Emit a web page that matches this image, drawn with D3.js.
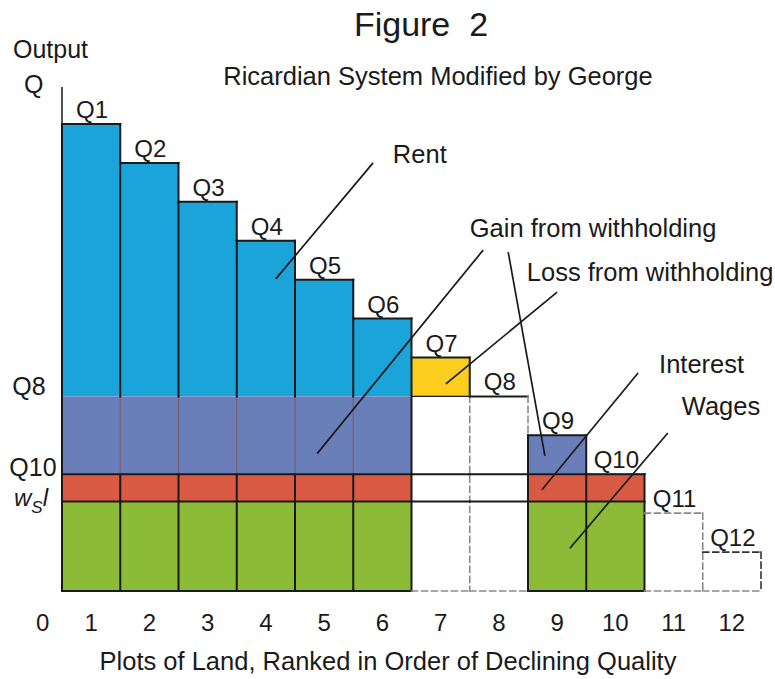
<!DOCTYPE html>
<html>
<head>
<meta charset="utf-8">
<script src="https://cdn.jsdelivr.net/npm/d3@7"></script>
<style>
  html, body { margin: 0; padding: 0; background: #ffffff; }
  svg { display: block; font-family: "Liberation Sans", Arial, Helvetica, sans-serif; }
</style>
</head>
<body>
<svg id="chart" width="775" height="679"></svg>
<script>
// ---------------- data ----------------
const plots = [1, 2, 3, 4, 5, 6, 7, 8, 9, 10, 11, 12];
const outputs = [12, 11, 10, 9, 8, 7, 6, 5, 4, 3, 2, 1];
const qLabels = ["Q1", "Q2", "Q3", "Q4", "Q5", "Q6", "Q7", "Q8", "Q9", "Q10", "Q11", "Q12"];
const plotStatus = ["used", "used", "used", "used", "used", "used",
                    "withheld", "withheld", "used", "used", "idle", "idle"];
const tickLabels = ["0", "1", "2", "3", "4", "5", "6", "7", "8", "9", "10", "11", "12"];
const marginLevel = 5;      // Q8: margin of production without withholding
const interestLevel = 3;    // Q10: actual margin
const wagesLevel = 2.3;     // w_S l
const annotations = [
  { text: "Rent", tx: 5.68, ty: 11.0, lines: [[5.34, 11.0, 3.67, 8.02]] },
  { text: "Gain from withholding", tx: 7.0, ty: 9.1, lines: [[7.23, 8.76, 4.38, 3.53], [7.66, 8.71, 8.29, 3.47]] },
  { text: "Loss from withholding", tx: 7.98, ty: 7.97, lines: [[8.50, 7.68, 6.59, 5.32]] },
  { text: "Interest", tx: 10.25, ty: 5.6, lines: [[9.89, 5.60, 8.24, 2.60]] },
  { text: "Wages", tx: 10.64, ty: 4.52, lines: [[10.40, 4.06, 8.72, 1.10]] }
];

// ---------------- colours ----------------
const C = {
  rent: "#1ba4d9", gain: "#6a7fba", interest: "#d85a42", wages: "#8bbb37",
  loss: "#fbcd1c", line: "#1a1a1a", dash: "#8a8a8a", text: "#1a1a1a"
};

// ---------------- scales ----------------
const svg = d3.select("#chart");
const x = d3.scaleLinear().domain([0, 12]).range([62, 761]);
const y = d3.scaleLinear().domain([0, 12]).range([591, 124]);

const g = svg.append("g");

// ---------------- fills ----------------
const segs = [];
plots.forEach((p, i) => {
  const q = outputs[i], st = plotStatus[i];
  if (st === "used") {
    if (q > marginLevel) segs.push({ p, y0: marginLevel, y1: q, c: C.rent });
    const gTop = Math.min(q, marginLevel);
    if (gTop > interestLevel) segs.push({ p, y0: interestLevel, y1: gTop, c: C.gain });
    segs.push({ p, y0: wagesLevel, y1: Math.min(q, interestLevel), c: C.interest });
    segs.push({ p, y0: 0, y1: wagesLevel, c: C.wages });
  } else if (st === "withheld") {
    if (q > marginLevel) segs.push({ p, y0: marginLevel, y1: q, c: C.loss });
  }
});
g.selectAll("rect.seg").data(segs).join("rect")
  .attr("class", "seg")
  .attr("x", d => x(d.p - 1)).attr("width", d => x(d.p) - x(d.p - 1))
  .attr("y", d => y(d.y1)).attr("height", d => y(d.y0) - y(d.y1))
  .attr("fill", d => d.c);

// ---------------- outlines ----------------
const lines = [];
const solid = (x1, y1, x2, y2, w = 2) => lines.push({ x1, y1, x2, y2, s: C.line, w, dash: null });
const dashed = (x1, y1, x2, y2, s, w = 1.6, dash = "6,4") => lines.push({ x1, y1, x2, y2, s, w, dash });

plots.forEach((p, i) => {
  const q = outputs[i], st = plotStatus[i];
  const prevQ = i > 0 ? outputs[i - 1] : 0;
  const prevSt = i > 0 ? plotStatus[i - 1] : "none";
  if (st === "used") {
    if (p === 10) dashed(p - 1, q, p, q, C.dash, 2, "5,3");
    else solid(p - 1, q, p, q);
    if (prevSt === "used") {
      solid(p - 1, 0, p - 1, wagesLevel);
      solid(p - 1, wagesLevel, p - 1, interestLevel);
      if (prevQ > marginLevel && q > marginLevel) {
        lines.push({ x1: p - 1, y1: interestLevel, x2: p - 1, y2: marginLevel, s: "#7d5a6e", w: 1.2, dash: null });
        solid(p - 1, marginLevel, p - 1, Math.min(q, prevQ));
      } else solid(p - 1, interestLevel, p - 1, Math.min(q, prevQ));
      if (prevQ > q) solid(p - 1, q, p - 1, prevQ);
    } else {
      solid(p - 1, 0, p - 1, q);
    }
    if (i === plots.length - 1 || plotStatus[i + 1] !== "used") solid(p, 0, p, q);
    solid(p - 1, 0, p, 0);
    solid(p - 1, interestLevel, p, interestLevel);
    solid(p - 1, wagesLevel, p, wagesLevel);
  } else if (st === "withheld") {
    if (q > marginLevel) {
      dashed(p - 1, q, p, q, C.line, 2, "4,2");
      dashed(p, q, p, marginLevel, C.line, 2, "4,2");
      solid(p - 1, marginLevel, p, marginLevel, 1.2);
    } else {
      solid(p - 1, q, p, q);
    }
    dashed(p, marginLevel, p, 0, C.dash, 1.6, "6,4");
    dashed(p - 1, 0, p, 0, C.dash, 1.6, "6,4");
    solid(p - 1, interestLevel, p, interestLevel);
    solid(p - 1, wagesLevel, p, wagesLevel);
  } else {
    const col = p === 12 ? "#333333" : C.dash;
    dashed(p - 1, q, p, q, col, 1.6, "6,4");
    dashed(p, q, p, 0, col, 1.6, "6,4");
    dashed(p - 1, 0, p, 0, C.dash, 1.6, "6,4");
  }
});
// y axis
solid(0, 0, 0, 12.93, 1.5);

g.selectAll("line.o").data(lines).join("line")
  .attr("class", "o")
  .attr("x1", d => x(d.x1)).attr("y1", d => y(d.y1))
  .attr("x2", d => x(d.x2)).attr("y2", d => y(d.y2))
  .attr("stroke", d => d.s).attr("stroke-width", d => d.w)
  .attr("stroke-dasharray", d => d.dash)
  .attr("stroke-linecap", "square");

// ---------------- bar labels ----------------
g.selectAll("text.q").data(plots).join("text")
  .attr("class", "q")
  .attr("x", p => x(p - 0.5) + 1)
  .attr("y", (p, i) => y(outputs[i]) - 6)
  .attr("text-anchor", "middle")
  .attr("font-size", 24)
  .attr("fill", C.text)
  .text((p, i) => qLabels[i]);

// ---------------- x axis tick labels ----------------
g.selectAll("text.tick").data(tickLabels).join("text")
  .attr("class", "tick")
  .attr("x", (t, i) => i === 0 ? x(-0.33) : x(i - 0.5))
  .attr("y", 631)
  .attr("text-anchor", "middle")
  .attr("font-size", 24)
  .attr("fill", C.text)
  .text(t => t);

// ---------------- y labels ----------------
const yl = g.append("g").attr("font-size", 25).attr("fill", C.text);
yl.append("text").attr("x", 13).attr("y", 58).text("Output");
yl.append("text").attr("x", 24).attr("y", 93).text("Q");
yl.append("text").attr("x", 29).attr("y", y(marginLevel) - 1).attr("text-anchor", "middle").text("Q8");
yl.append("text").attr("x", 33).attr("y", y(interestLevel) + 2).attr("text-anchor", "middle").text("Q10");
const ws = yl.append("text").attr("x", 14).attr("y", 506).attr("font-style", "italic").attr("font-size", 24);
ws.append("tspan").text("w");
ws.append("tspan").attr("font-size", 17).attr("dy", 7).text("S");
ws.append("tspan").attr("dy", -7).text("l");

// ---------------- annotations ----------------
const ann = g.append("g");
annotations.forEach(a => {
  ann.append("text").attr("x", x(a.tx)).attr("y", y(a.ty))
    .attr("font-size", 25.5).attr("fill", C.text).text(a.text);
  a.lines.forEach(l => {
    ann.append("line")
      .attr("x1", x(l[0])).attr("y1", y(l[1]))
      .attr("x2", x(l[2])).attr("y2", y(l[3]))
      .attr("stroke", C.line).attr("stroke-width", 1.7);
  });
});

// ---------------- titles ----------------
svg.append("text").attr("x", 421).attr("y", 36).attr("text-anchor", "middle")
  .attr("font-size", 34).attr("fill", C.text).attr("xml:space", "preserve").text("Figure  2");
svg.append("text").attr("x", 438).attr("y", 85).attr("text-anchor", "middle")
  .attr("font-size", 25.5).attr("fill", C.text).text("Ricardian System Modified by George");
svg.append("text").attr("x", 388).attr("y", 670).attr("text-anchor", "middle")
  .attr("font-size", 25.5).attr("fill", C.text).text("Plots of Land, Ranked in Order of Declining Quality");
</script>
</body>
</html>
